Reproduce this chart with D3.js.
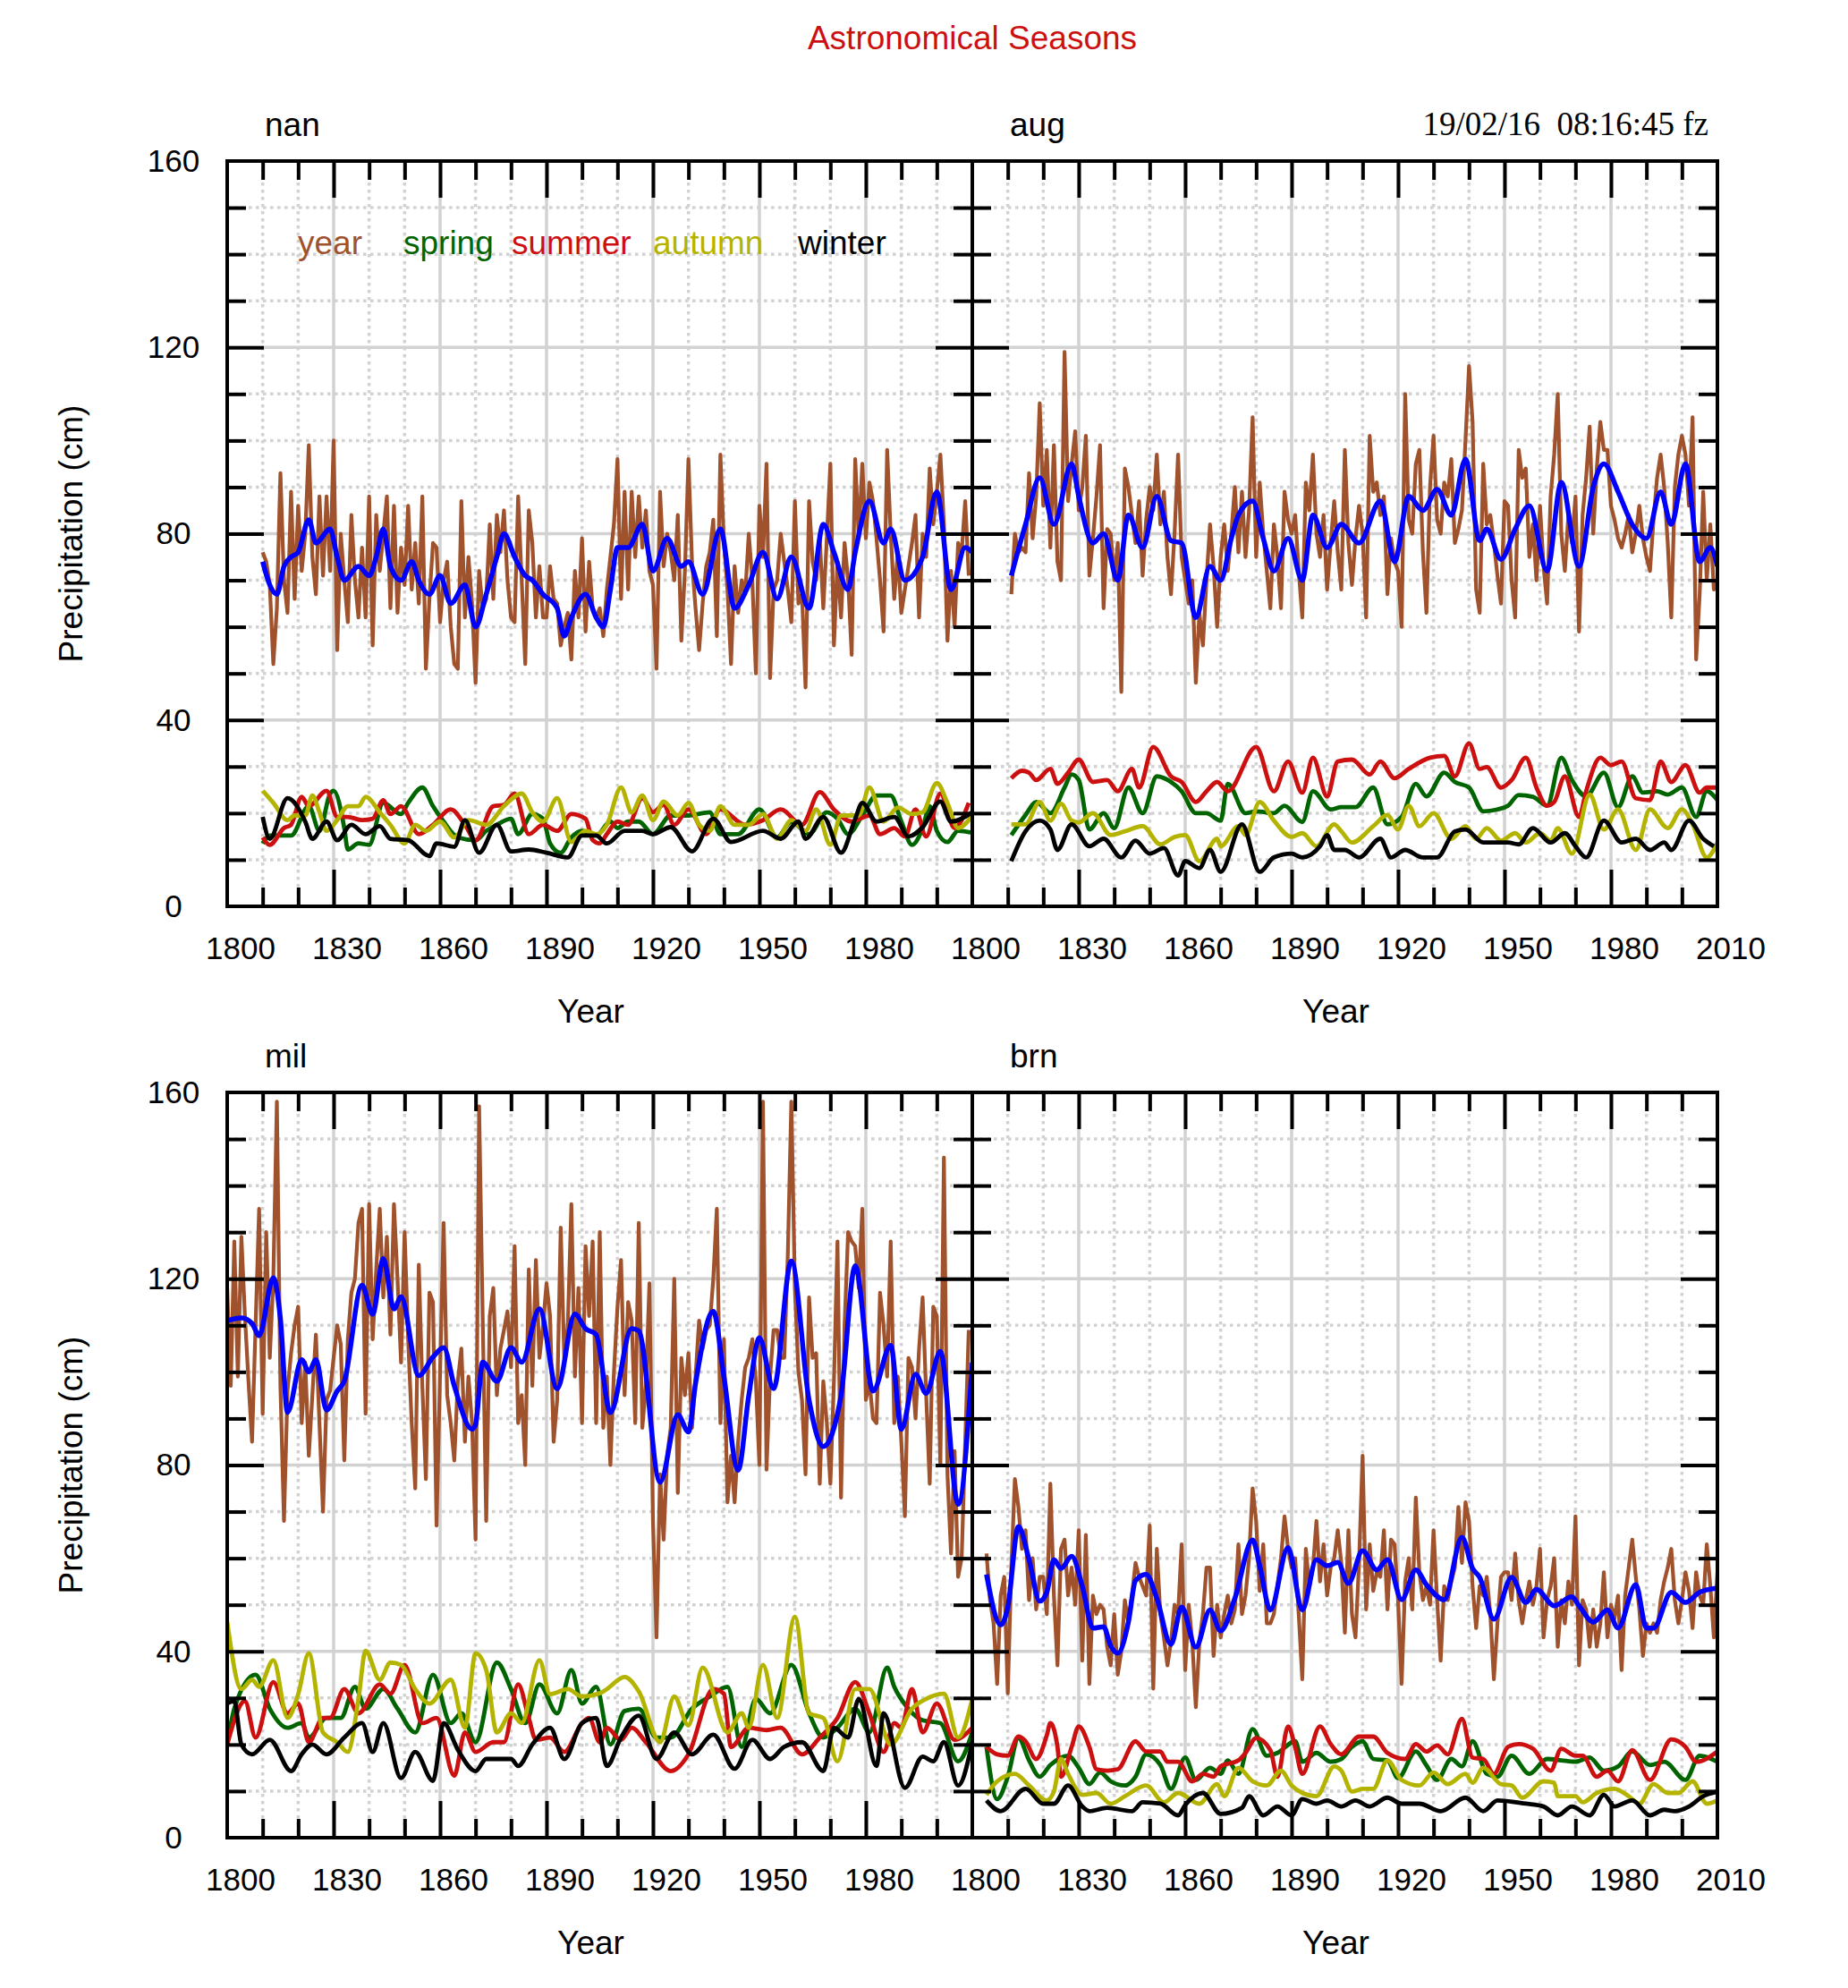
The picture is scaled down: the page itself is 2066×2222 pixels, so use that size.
<!DOCTYPE html>
<html><head><meta charset="utf-8">
<script src="https://cdn.jsdelivr.net/npm/d3@7"></script>
<style>body{margin:0;background:#fff}svg{display:block}</style>
</head><body>
<svg id="chart" width="2066" height="2222"></svg>
<script>
// ---------------- DATA ----------------
const chartTitle = "Astronomical Seasons";
const stampText = "19/02/16  08:16:45 fz";
const seasonNames = ["year","spring","summer","autumn","winter"];
const yTickValues = [0,40,80,120,160];
const xLabelsLeft = [1800,1830,1860,1890,1920,1950,1980];
const xLabelsRight = [1800,1830,1860,1890,1920,1950,1980,2010];

// nan: annual totals from 1810
const nanStart = 1810;
const nanYear = [76,74,69,52,64,93,70,63,89,66, 86,72,80,99,75,67,88,71,88,72, 100,55,80,70,61,84,70,62,77,62,
 88,56,84,72,80,88,64,86,63,77, 69,86,68,78,65,88,51,66,78,77, 61,70,74,60,52,51,87,62,75,65,
 48,72,64,66,82,66,84,76,85,70, 62,61,88,70,52,85,78,62,73,62, 62,73,66,65,56,60,63,53,72,62,
 79,59,74,64,62,64,58,68,75,82, 96,66,89,68,89,75,88,77,85,72, 69,51,89,73,80,76,70,84,57,72,
 96,74,64,55,65,73,76,83,58,97, 78,68,52,73,63,70,67,80,70,50, 86,75,95,49,68,70,80,74,68,61,
 87,65,67,47,87,74,70,79,64,79, 95,56,74,62,78,70,54,96,79,95, 79,91,87,79,70,59,98,80,66,76,
 63,68,73,78,84,62,80,75,94,82, 89,97,82,57,72,60,78,76,87,71];
const nanSmooth = [[1810,74],[1812,69],[1814,67],[1816,73],[1818,75],[1820,76],[1823,83],[1825,78],[1829,81],[1831,75],[1833,70],[1837,73],[1840,71],[1842,75],[1844,81],[1846,73],[1849,70],[1852,74],[1854,70],[1857,67],[1860,71],[1863,65],[1867,69],[1870,60],[1873,67],[1876,75],[1878,80],[1881,75],[1884,71],[1886,70],[1889,67],[1893,64],[1895,58],[1897,62],[1901,67],[1904,62],[1906,60],[1908,68],[1910,77],[1913,77],[1917,82],[1920,72],[1924,79],[1928,73],[1930,74],[1934,67],[1939,81],[1943,64],[1947,69],[1951,76],[1955,66],[1959,75],[1964,64],[1968,82],[1971,76],[1975,68],[1977,76],[1981,87],[1985,78],[1987,81],[1991,70],[1996,75],[2000,89],[2004,68],[2008,77],[2010,76]];
const nanSpring = [[1810,13.5],[1812,15.2],[1818,15.2],[1823,21.5],[1826,16.2],[1829,24.2],[1830,24.8],[1833,16.8],[1834,12.2],[1837,13.5],[1840,13.2],[1844,22.2],[1849,19.8],[1851,22.2],[1855,25.5],[1858,21.5],[1861,18.2],[1865,14.8],[1870,14.2],[1873,16.2],[1876,17.5],[1880,18.8],[1882,15.5],[1886,19.8],[1889,18.8],[1891,13.5],[1894,11.5],[1897,14.8],[1900,16.2],[1904,15.2],[1908,18.2],[1910,16.8],[1913,18.2],[1916,18.2],[1920,15.5],[1925,19.5],[1930,19.5],[1936,20.2],[1939,15.5],[1944,15.5],[1950,20.8],[1955,14.8],[1959,18.2],[1964,15.5],[1969,20.2],[1972,18.8],[1975,15.5],[1979,19.5],[1983,23.8],[1987,23.8],[1990,18.2],[1993,13.2],[1996,16.8],[1998,21.5],[2000,16.2],[2003,13.8],[2006,16.2],[2010,15.8]];
const nanSummer = [[1810,14.8],[1812,13.2],[1816,16.8],[1818,17.5],[1821,23.5],[1823,21.5],[1828,24.8],[1831,19.2],[1834,19.2],[1838,18.5],[1841,18.8],[1844,22.8],[1846,19.8],[1849,21.5],[1854,15.5],[1858,17.5],[1863,20.8],[1867,17.5],[1870,14.2],[1875,21.5],[1878,21.8],[1881,24.2],[1885,15.5],[1889,17.5],[1893,16.2],[1897,19.8],[1901,18.8],[1903,14.2],[1905,13.5],[1907,15.5],[1910,18.2],[1913,17.5],[1917,23.2],[1920,20.2],[1923,21.8],[1926,17.5],[1930,20.8],[1935,15.5],[1939,20.8],[1946,17.5],[1951,18.5],[1956,20.8],[1962,17.5],[1967,24.5],[1971,20.8],[1976,18.2],[1981,19.5],[1984,15.5],[1988,16.8],[1991,15],[1994,20.8],[1997,15],[2001,24.2],[2005,16.8],[2009,22.2]];
const nanAutumn = [[1810,24.8],[1813,22.2],[1817,18.5],[1819,19.5],[1822,19.5],[1824,23.8],[1826,20.2],[1828,16.2],[1831,18.5],[1834,21.5],[1837,21.5],[1839,23.5],[1843,20.2],[1846,17.5],[1850,13.5],[1853,17.5],[1856,16.2],[1860,18.2],[1864,14.8],[1868,18.5],[1873,17.5],[1878,21.5],[1883,24.2],[1886,20.2],[1889,18.2],[1893,23.2],[1897,13.8],[1901,16.2],[1904,15.5],[1907,17.5],[1911,25.5],[1914,20.2],[1917,23.8],[1920,18.5],[1923,22.5],[1927,19.5],[1930,22.2],[1933,17.5],[1936,16.2],[1939,21.5],[1943,17.5],[1947,17.5],[1951,19.8],[1955,14.5],[1959,18.5],[1963,16.2],[1966,20.8],[1970,13.2],[1973,19.5],[1978,19.5],[1981,25.5],[1985,18.2],[1989,21.2],[1993,19.8],[1996,20.2],[2000,26.5],[2003,22.2],[2006,16.8],[2010,19.5]];
const nanWinter = [[1810,19.2],[1812,14.5],[1817,23.2],[1822,18.2],[1824,14.5],[1828,18.2],[1831,14.2],[1835,17.5],[1839,15.5],[1843,17.2],[1846,14.5],[1851,14.2],[1857,10.8],[1859,13.5],[1864,12.8],[1867,18.5],[1871,11.5],[1876,17.5],[1880,11.8],[1885,12.2],[1890,11.5],[1896,10.5],[1900,15.2],[1904,15.2],[1907,13.5],[1912,16.2],[1917,16.2],[1920,15.5],[1925,17],[1931,11.8],[1937,18.8],[1942,13.8],[1951,16.2],[1956,14.5],[1961,18.2],[1963,14.5],[1968,19.2],[1973,11.5],[1977,18.8],[1979,22.2],[1983,18.2],[1988,19.2],[1992,15],[1996,17],[2001,22.5],[2004,18.2],[2010,20.2]];

// aug: annual totals from 1811
const augStart = 1811;
const augYear = [67,80,76,77,76,93,79,88,108, 86,98,77,99,74,70,119,87,95,102, 85,90,101,71,79,88,99,64,81,80,
 70,78,46,94,90,84,78,87,71,83, 90,85,97,82,89,75,67,80,97,75, 70,65,70,48,63,56,70,82,73,60,
 75,82,72,80,90,76,89,75,85,105, 75,91,80,72,64,82,75,64,89,83, 80,84,72,62,91,85,97,80,75,84,
 68,78,87,76,68,98,78,69,79,86, 80,62,101,89,91,84,88,67,79,74, 72,60,110,83,80,95,98,76,63,90,
 101,83,80,91,88,96,78,81,85,100, 116,104,68,63,95,82,84,78,71,65, 87,86,70,62,98,92,94,75,82,70,
 86,73,65,88,97,110,80,72,84,78, 88,59,84,92,103,80,94,104,98,98, 86,83,79,77,80,84,76,80,86,79,
 75,72,83,92,97,90,78,62,90,97, 101,97,86,105,53,67,89,70,82,68,70];
const augSmooth = [[1811,71],[1815,82],[1819,92],[1823,82],[1828,95],[1830,88],[1834,78],[1837,80],[1841,70],[1844,84],[1848,77],[1852,88],[1856,78.5],[1859,78],[1863,62],[1867,73],[1870,70],[1873,79],[1875,84],[1879,87],[1882,79],[1885,72],[1889,79],[1893,70],[1896,84],[1900,77],[1904,82],[1909,78],[1915,87],[1919,74],[1923,88],[1927,85],[1931,89.5],[1935,84],[1939,96],[1943,78.5],[1945,81],[1949,74.5],[1953,81],[1957,86],[1962,72],[1966,91],[1971,73],[1975,90],[1978,95],[1982,89],[1986,82],[1990,79],[1994,89],[1997,82],[2001,95],[2005,74],[2008,77],[2010,73]];
const augSpring = [[1811,15.3],[1815,19.6],[1818,22.4],[1822,20],[1826,25.5],[1828,28.3],[1830,27.1],[1833,16.5],[1837,20],[1840,16.8],[1844,25.5],[1848,20],[1852,27.9],[1856,26.7],[1859,24.7],[1863,20],[1866,20],[1870,18.4],[1872,26.3],[1877,20],[1880,20.4],[1885,20],[1888,21.6],[1893,18.1],[1896,24.7],[1901,20.8],[1904,21.3],[1908,21.3],[1913,25.5],[1917,17.6],[1921,19.2],[1925,26.3],[1928,23.6],[1933,28.7],[1936,26.7],[1940,25.5],[1944,20.4],[1948,20.8],[1951,21.6],[1954,23.9],[1958,23.5],[1962,21.6],[1966,31.9],[1969,27.1],[1973,23.6],[1978,28.7],[1982,21.3],[1986,27.9],[1989,24.4],[1993,24.7],[1996,24],[2000,25.5],[2004,19.2],[2007,24.7],[2010,22.8]];
const augSummer = [[1811,27.5],[1814,29.1],[1816,28.7],[1818,27.1],[1822,29.5],[1824,26.3],[1827,28.7],[1830,31.5],[1834,26.7],[1838,27.1],[1841,24.7],[1845,29.5],[1847,25.5],[1851,34.2],[1856,27.9],[1859,26.7],[1863,22.4],[1866,24.7],[1869,26.7],[1872,24.7],[1880,34.2],[1885,24.7],[1889,31.1],[1893,24.4],[1896,31.9],[1900,23.6],[1903,31.1],[1907,31.5],[1912,28.3],[1915,31.1],[1919,27.5],[1923,29.5],[1929,31.9],[1933,32.3],[1936,27.9],[1940,35],[1943,29.5],[1945,29.9],[1949,25.5],[1952,27.1],[1956,31.9],[1959,25.5],[1962,21.6],[1964,22.4],[1967,27.9],[1971,19.2],[1973,24.7],[1977,31.9],[1980,30.3],[1983,31.1],[1987,23.2],[1991,22.8],[1994,31.1],[1997,26.7],[2001,30.3],[2005,24.4],[2007,25.5],[2010,25.5]];
const augAutumn = [[1811,17.6],[1815,17.6],[1819,22.4],[1822,18.4],[1825,22],[1828,18.4],[1830,18],[1834,20],[1839,15.3],[1843,16.1],[1848,17.2],[1853,13.3],[1857,14.9],[1860,15.3],[1864,9.7],[1869,14.5],[1870,12.9],[1875,17.2],[1877,15.3],[1881,22.4],[1885,18.4],[1890,14.9],[1893,15.7],[1897,12.9],[1902,17.6],[1904,16.1],[1907,13.7],[1913,17.2],[1917,19.6],[1920,16.5],[1923,21.6],[1926,17.2],[1930,20],[1935,14.5],[1939,17.2],[1942,14.5],[1945,16.8],[1949,14.1],[1953,15.7],[1956,13.7],[1960,15.7],[1963,14.1],[1965,16.8],[1969,11.3],[1974,24],[1978,16.5],[1982,20.8],[1987,12.1],[1991,20.8],[1996,16.8],[2000,20.8],[2003,17.6],[2007,10.5],[2010,13.7]];
const augWinter = [[1811,9.7],[1815,16.1],[1819,18.4],[1822,16.5],[1824,12.1],[1828,17.6],[1833,12.9],[1837,14.5],[1842,10.5],[1846,14.1],[1850,11.3],[1854,12.5],[1858,6.6],[1860,9.7],[1864,8.2],[1867,12.1],[1870,7.4],[1876,17.6],[1881,7.4],[1885,10.5],[1890,11.3],[1893,10.5],[1898,12.9],[1900,15.3],[1902,12.1],[1905,12.1],[1909,10.5],[1915,14.5],[1918,10.5],[1922,12.1],[1927,10.5],[1931,10.5],[1936,16.1],[1939,16.5],[1944,13.7],[1951,13.7],[1954,13.3],[1958,16.8],[1963,13.7],[1967,15.7],[1970,12.9],[1973,10.5],[1978,18.4],[1983,13.7],[1987,14.5],[1991,12.1],[1995,13.7],[1997,12.1],[2002,18.4],[2006,14.5],[2009,12.9]];

// mil: annual totals from 1800
const milStart = 1800;
const milYear = [118,97,128,99,129,112,98,85,110,135, 91,130,103,120,158,97,68,96,104,110, 114,89,102,82,95,108,89,70,94,96,
 103,110,106,81,107,117,120,132,135,91, 136,107,122,135,116,129,108,136,120,102, 130,107,89,75,123,97,77,117,115,67,
 100,132,95,89,81,98,105,85,99,89, 64,157,112,68,112,118,95,105,109,113, 101,127,89,95,80,122,97,124,103,110,
 119,112,85,94,131,103,110,136,99,118, 89,127,112,128,89,130,88,99,80,100, 114,124,95,115,111,89,132,88,97,119,
 68,43,78,64,82,88,120,74,103,95, 104,88,99,111,105,109,110,120,135,89, 107,72,82,72,85,94,101,103,107,98,
 80,158,79,99,109,109,103,103,125,158, 118,100,94,78,116,103,104,76,98,89, 76,98,128,73,110,130,128,127,118,135,
 94,98,90,89,117,110,99,128,89,99, 85,69,103,101,90,105,116,95,76,114, 112,80,146,78,61,83,56,60,85,109];
const milSmooth = [[1800,111],[1804,111.6],[1807,110.4],[1809,107.8],[1813,120.2],[1815,111.4],[1817,91.3],[1821,102.6],[1823,100],[1825,102.6],[1828,91.8],[1831,95.9],[1833,98],[1838,118.6],[1841,112.4],[1844,124.3],[1847,113.5],[1849,116.1],[1854,99.2],[1858,103.2],[1861,105.2],[1864,97],[1869,87.7],[1870,88.7],[1872,102.1],[1876,98],[1880,105.2],[1883,102.1],[1888,113.5],[1893,96.4],[1898,112.4],[1901,109.3],[1904,108],[1908,91.3],[1914,109.3],[1916,108.8],[1922,76.3],[1927,90.8],[1930,87.1],[1932,97.5],[1937,113],[1940,99],[1944,78.9],[1947,94.9],[1950,107.3],[1954,96.4],[1959,123.8],[1964,93.9],[1968,84],[1973,94.9],[1977,122.8],[1982,95.9],[1987,105.7],[1990,87.7],[1994,99.5],[1997,95.4],[2001,104.4],[2006,71.6],[2010,102]];
const milSpring = [[1800,20],[1802,27.7],[1808,35],[1812,27.7],[1817,23.6],[1821,24.6],[1823,21.5],[1828,25.7],[1832,25.7],[1836,32.4],[1839,27.7],[1844,31.9],[1848,27.7],[1853,22.6],[1858,35],[1863,24.6],[1866,26.7],[1870,20.5],[1876,37.6],[1880,31.9],[1884,24.6],[1888,32.9],[1893,26.7],[1897,36],[1900,28.8],[1904,32.4],[1908,20],[1912,27.2],[1916,27.7],[1921,21.5],[1925,21.5],[1931,27.7],[1936,30.3],[1941,32.4],[1945,19.5],[1949,29.8],[1953,26.7],[1959,37.1],[1964,26.7],[1968,21.5],[1972,23.6],[1977,27.7],[1981,22.6],[1986,36.5],[1988,32.4],[1992,27.7],[1996,25.2],[2001,24.6],[2006,16.4],[2010,22.6]];
const milSummer = [[1800,20],[1805,29.3],[1808,21.5],[1813,33.4],[1817,26.7],[1820,28.8],[1823,20.5],[1827,25.7],[1829,25.7],[1833,31.9],[1837,26.7],[1843,32.9],[1846,30.9],[1850,37.1],[1855,24.6],[1859,25.7],[1864,13.3],[1867,22.6],[1870,18.4],[1875,20.5],[1878,20.5],[1882,32.9],[1885,25.7],[1887,21],[1891,21.5],[1895,18.4],[1900,24.6],[1902,25.7],[1905,20.5],[1907,23.6],[1911,21],[1914,23.6],[1918,20.5],[1925,14.3],[1930,17.9],[1937,31.9],[1940,30.9],[1942,19.5],[1947,23.6],[1952,23.1],[1956,23.6],[1962,17.9],[1967,21.5],[1972,25.7],[1977,33.4],[1981,26.7],[1985,18.4],[1988,24.6],[1990,23.6],[1993,31.9],[1996,22.6],[2000,28.8],[2005,21],[2010,23.6]];
const milAutumn = [[1800,46.3],[1804,31.9],[1807,33.9],[1809,32.4],[1813,38.1],[1817,25.7],[1820,30.8],[1823,39.6],[1827,22.6],[1831,20.5],[1834,18.4],[1837,29.8],[1839,40.1],[1843,33.9],[1846,37.6],[1849,37.1],[1853,31.9],[1857,28.8],[1863,33.9],[1867,23.6],[1870,39.6],[1873,36],[1876,22.6],[1880,26.7],[1883,24.6],[1888,38.1],[1891,30.8],[1896,31.9],[1900,30.3],[1905,31],[1907,31.9],[1912,34.5],[1916,31.4],[1922,20.5],[1926,30.3],[1930,24.1],[1934,36.5],[1941,22.6],[1945,26.7],[1947,23.6],[1951,37.1],[1955,25.7],[1960,47.4],[1964,26.7],[1968,25.7],[1972,16.4],[1977,31.9],[1981,31.9],[1987,20],[1993,27.7],[1997,29.8],[2002,30.9],[2006,21.5],[2010,29.8]];
const milWinter = [[1800,28.8],[1802,29.3],[1804,20],[1807,17.9],[1812,21],[1818,14.3],[1821,17.9],[1824,20],[1828,17.9],[1833,21.5],[1838,24.6],[1841,18.4],[1844,24.6],[1849,12.8],[1853,18.4],[1858,12.2],[1861,24.6],[1865,18.9],[1870,14.3],[1873,16.9],[1880,16.9],[1882,15.4],[1886,20],[1891,23.6],[1895,16.9],[1900,24.6],[1904,25.7],[1907,15.4],[1911,21.5],[1916,26.2],[1921,16.9],[1926,22.6],[1931,17.9],[1937,22.1],[1943,14.8],[1948,21],[1953,16.9],[1957,19.5],[1962,20.5],[1968,14.3],[1971,23.6],[1975,21.5],[1978,29.8],[1983,15.4],[1985,26.7],[1991,10.7],[1996,17.4],[1999,16.4],[2002,20.5],[2006,11.2],[2010,20.5]];

// brn: annual totals from 1804
const brnStart = 1804;
const brnYear = [61,51,46,33,52,56, 31,58,77,71,62,66,51,60,49,56, 56,48,76,52,37,62,64,52,58,50, 66,38,65,33,52,48,50,49,41,37,
 48,35,40,51,46,52,59,56,54,52, 67,32,62,48,43,37,42,50,48,63, 36,50,42,28,42,48,58,58,39,50,
 43,48,52,46,49,63,48,52,60,75, 68,53,63,46,46,48,54,60,69,62, 58,60,48,34,62,54,58,68,55,63,
 52,58,60,66,59,44,66,48,43,59, 82,49,63,53,57,56,66,49,64,63, 51,33,55,60,49,73,57,51,54,50,
 66,51,38,54,51,55,58,71,59,72, 68,54,45,54,52,56,48,34,46,56, 57,57,51,61,51,46,51,55,50,54,
 62,43,51,54,60,41,51,46,55,50, 69,37,51,49,41,49,41,46,57,43, 50,47,52,36,52,58,64,56,49,39,
 46,44,46,44,51,55,58,62,51,46, 51,57,53,45,57,52,50,63,54,43,57];
const brnSmooth = [[1804,56.5],[1808,45.7],[1810,49.5],[1813,66.8],[1816,59.7],[1819,50.8],[1821,52.7],[1823,59.7],[1825,57.8],[1828,60.4],[1831,54],[1834,45],[1837,45.3],[1839,41.2],[1841,39.6],[1844,46.3],[1846,55.2],[1849,56.5],[1852,51.4],[1856,41.5],[1859,49.5],[1863,40.9],[1867,48.9],[1870,44.4],[1874,51.4],[1879,63.9],[1881,58.4],[1884,48.9],[1889,62.3],[1893,48.9],[1897,59.7],[1900,58.4],[1903,59.1],[1906,54.6],[1910,61.6],[1914,57.5],[1917,59.7],[1921,51.1],[1925,57.5],[1928,54.3],[1933,51.1],[1938,64.5],[1941,57.8],[1943,55.9],[1947,46.9],[1952,55.9],[1956,50.5],[1959,53.3],[1964,49.8],[1969,51.7],[1971,49.8],[1975,46.3],[1979,48.9],[1982,45],[1987,54.3],[1990,45],[1992,45],[1997,52.7],[2001,50.5],[2005,52.7],[2010,53.6]];
const brnSpring = [[1804,19.5],[1807,8.3],[1810,13.1],[1813,21.4],[1816,16.6],[1819,13.1],[1822,15.6],[1827,17.6],[1830,15],[1833,11.5],[1836,14],[1839,12.1],[1843,11.2],[1846,13.1],[1849,17.9],[1853,15.6],[1856,10.5],[1860,17.2],[1863,12.4],[1867,15],[1870,13.7],[1872,16.6],[1875,13.7],[1879,23.3],[1883,17.6],[1886,18.2],[1891,20.7],[1893,16.3],[1897,18.2],[1901,16.3],[1904,16.9],[1907,19.5],[1910,20.7],[1913,16.9],[1917,16.6],[1920,12.8],[1925,18.5],[1928,15.5],[1931,12.4],[1935,16.9],[1938,15.3],[1941,20.7],[1945,13.7],[1948,13.1],[1952,17.6],[1957,13.7],[1962,16.9],[1966,16.6],[1970,16.3],[1974,17.2],[1978,14.4],[1982,15.3],[1986,18.5],[1991,15.6],[1995,16.3],[2001,12.4],[2005,17.6],[2010,16.3]];
const brnSummer = [[1804,19.5],[1807,17.9],[1810,17.6],[1813,21.7],[1815,20.7],[1818,16.9],[1821,22],[1822,24.6],[1824,19.5],[1825,13.1],[1828,19.5],[1830,23.9],[1833,19.5],[1835,14.7],[1838,14.4],[1841,14.7],[1846,20.7],[1849,18.5],[1853,18.5],[1855,16.3],[1858,16.3],[1862,12.1],[1865,13.7],[1868,13.1],[1870,15.3],[1875,16.6],[1877,18.2],[1880,21.4],[1884,18.8],[1886,13.1],[1889,23.9],[1891,19.5],[1893,13.7],[1898,23.9],[1901,20.1],[1904,17.9],[1909,21.7],[1913,21.7],[1917,18.2],[1922,16.9],[1925,20.1],[1928,18.5],[1931,19.8],[1934,17.9],[1938,25.5],[1941,17.2],[1944,16.9],[1947,13.7],[1951,19.5],[1954,20.1],[1958,19.1],[1963,14.4],[1966,19.1],[1970,17.6],[1972,17.6],[1976,13.1],[1979,14.4],[1982,12.1],[1986,18.8],[1991,12.4],[1997,21.1],[2001,19.5],[2004,16.3],[2010,18.5]];
const brnAutumn = [[1804,9.2],[1807,12.1],[1812,13.7],[1816,11.2],[1821,8],[1823,9.9],[1825,16.9],[1827,13.7],[1831,9.2],[1835,9.6],[1839,7.3],[1843,8.9],[1849,11.2],[1854,7.6],[1858,9.6],[1864,7.3],[1869,11.5],[1871,8.9],[1875,15],[1879,12.1],[1883,11.2],[1887,14.4],[1890,11.2],[1893,9.6],[1897,8.9],[1902,15.3],[1904,14.4],[1907,9.9],[1910,10.5],[1913,10.5],[1917,16.6],[1921,12.4],[1926,11.2],[1930,14],[1934,11.5],[1939,13.7],[1941,11.8],[1944,15],[1949,11.5],[1952,11.2],[1955,8.6],[1961,12.1],[1964,11.8],[1965,8.9],[1970,8.9],[1972,7.6],[1976,9.6],[1981,10.5],[1985,8.9],[1988,7.3],[1992,11.5],[1996,9.6],[1999,9.6],[2003,12.1],[2007,7.3],[2010,8]];
const brnWinter = [[1804,8],[1808,5.7],[1815,10.5],[1820,7.3],[1823,7.3],[1827,11.2],[1831,6.7],[1833,5.7],[1838,6.4],[1845,5.7],[1848,7.6],[1853,7.3],[1858,4.8],[1860,7],[1865,9.6],[1870,5.1],[1876,6.4],[1878,8.9],[1882,4.8],[1886,6.7],[1890,4.8],[1893,8.3],[1897,7.3],[1900,8],[1904,6.7],[1908,8],[1912,6.7],[1917,8.6],[1921,7.3],[1926,7.3],[1932,5.7],[1939,8.6],[1944,5.7],[1948,8],[1956,7.3],[1961,6.7],[1965,4.8],[1969,6.7],[1974,4.8],[1978,9.2],[1981,6.7],[1986,8],[1991,4.8],[1995,6],[1998,5.7],[2002,6.7],[2006,8.9],[2010,9.9]];

// ---------------- DRAWING ----------------
const FONT = "'Liberation Sans', Arial, Helvetica, sans-serif";
const COLORS = {year:"#a0522d", smooth:"#0000ff", spring:"#006400", summer:"#cc1010", autumn:"#b4b400", winter:"#000000"};
const PW = 833, PH = 833;
const svg = d3.select("#chart");
svg.append("rect").attr("width",2066).attr("height",2222).attr("fill","#fff");

const stations = [
  {name:"nan", col:0, row:0, start:nanStart, year:nanYear, smooth:nanSmooth, s:{spring:nanSpring, summer:nanSummer, autumn:nanAutumn, winter:nanWinter}},
  {name:"aug", col:1, row:0, start:augStart, year:augYear, smooth:augSmooth, s:{spring:augSpring, summer:augSummer, autumn:augAutumn, winter:augWinter}},
  {name:"mil", col:0, row:1, start:milStart, year:milYear, smooth:milSmooth, s:{spring:milSpring, summer:milSummer, autumn:milAutumn, winter:milWinter}},
  {name:"brn", col:1, row:1, start:brnStart, year:brnYear, smooth:brnSmooth, s:{spring:brnSpring, summer:brnSummer, autumn:brnAutumn, winter:brnWinter}}
];
const panelX = [254, 1087], panelY = [180, 1221];

svg.append("text").attr("x",1087).attr("y",55).attr("text-anchor","middle")
  .attr("font-family",FONT).attr("font-size",37).attr("fill","#cc1010").text(chartTitle);
svg.append("text").attr("x",1910).attr("y",151).attr("text-anchor","end").style("white-space","pre")
  .attr("font-family","'Liberation Serif','Times New Roman',serif").attr("font-size",37).attr("fill","#000").text(stampText);

const x = d3.scaleLinear().domain([1800,2010]).range([0,PW]);
const y = d3.scaleLinear().domain([0,160]).range([PH,0]);
const majorX = d3.range(1830,2010,30), minorX = d3.range(1810,2010,10).filter(v=>(v-1800)%30!==0);
const majorY = [40,80,120], minorY = d3.range(10,160,10).filter(v=>v%40!==0);
const GRID = "#d2d2d2";

const lineAnnual = (start) => d3.line().x((d,i)=>x(start+i)).y(d=>y(d));
const lineSmooth = d3.line().curve(d3.curveMonotoneX).x(d=>x(d[0])).y(d=>y(d[1]));

stations.forEach((st, k) => {
  const g = svg.append("g").attr("transform",`translate(${panelX[st.col]},${panelY[st.row]})`);
  // grid
  const grid = g.append("g");
  grid.selectAll(".gmx").data(minorX).join("line").attr("x1",d=>x(d)).attr("x2",d=>x(d)).attr("y1",0).attr("y2",PH)
    .attr("stroke",GRID).attr("stroke-width",3.5).attr("stroke-dasharray","3.5,4.5");
  grid.selectAll(".gmy").data(minorY).join("line").attr("y1",d=>y(d)).attr("y2",d=>y(d)).attr("x1",0).attr("x2",PW)
    .attr("stroke",GRID).attr("stroke-width",3.5).attr("stroke-dasharray","3.5,4.5");
  grid.selectAll(".gMx").data(majorX).join("line").attr("x1",d=>x(d)).attr("x2",d=>x(d)).attr("y1",0).attr("y2",PH)
    .attr("stroke",GRID).attr("stroke-width",3.5);
  grid.selectAll(".gMy").data(majorY).join("line").attr("y1",d=>y(d)).attr("y2",d=>y(d)).attr("x1",0).attr("x2",PW)
    .attr("stroke",GRID).attr("stroke-width",3.5);

  // data
  const cid = "clip"+k;
  g.append("clipPath").attr("id",cid).append("rect").attr("width",PW).attr("height",PH);
  const dg = g.append("g").attr("clip-path",`url(#${cid})`);
  dg.append("path").datum(st.year).attr("d",lineAnnual(st.start)).attr("fill","none")
    .attr("stroke",COLORS.year).attr("stroke-width",4.2).attr("stroke-linejoin","round");
  dg.append("path").datum(st.smooth).attr("d",lineSmooth).attr("fill","none")
    .attr("stroke",COLORS.smooth).attr("stroke-width",5.5);
  ["spring","summer","autumn","winter"].forEach(s => {
    dg.append("path").datum(st.s[s]).attr("d",lineSmooth).attr("fill","none")
      .attr("stroke",COLORS[s]).attr("stroke-width",4.8).attr("stroke-linejoin","round");
  });

  // ticks on all four sides (inward)
  const tk = (axis, tr) => {
    const a = g.append("g").attr("transform",tr).call(axis);
    a.select(".domain").remove();
    a.selectAll("line").attr("stroke","#000").attr("stroke-width",4);
    a.selectAll("text").remove();
  };
  tk(d3.axisBottom(x).tickValues(minorX).tickSize(-21), `translate(0,${PH})`);
  tk(d3.axisBottom(x).tickValues(majorX).tickSize(-41), `translate(0,${PH})`);
  tk(d3.axisTop(x).tickValues(minorX).tickSize(-21), `translate(0,0)`);
  tk(d3.axisTop(x).tickValues(majorX).tickSize(-41), `translate(0,0)`);
  tk(d3.axisLeft(y).tickValues(minorY).tickSize(-21), `translate(0,0)`);
  tk(d3.axisLeft(y).tickValues(majorY).tickSize(-41), `translate(0,0)`);
  tk(d3.axisRight(y).tickValues(minorY).tickSize(-21), `translate(${PW},0)`);
  tk(d3.axisRight(y).tickValues(majorY).tickSize(-41), `translate(${PW},0)`);

  g.append("rect").attr("width",PW).attr("height",PH).attr("fill","none").attr("stroke","#000").attr("stroke-width",4);

  // x tick labels
  const xl = st.col===0 ? xLabelsLeft : xLabelsRight;
  g.append("g").selectAll("text").data(xl).join("text")
    .attr("x",d=>x(d)+15).attr("y",PH+59).attr("text-anchor","middle")
    .attr("font-family",FONT).attr("font-size",35).text(d=>d);
  // y tick labels (left column only)
  if (st.col===0) {
    g.append("g").selectAll("text").data(yTickValues).join("text")
      .attr("x",-60).attr("y",d=>y(d)).attr("dy","0.34em").attr("text-anchor","middle")
      .attr("font-family",FONT).attr("font-size",35).text(d=>d);
    g.append("text").attr("transform",`translate(-162,${PH/2}) rotate(-90)`).attr("text-anchor","middle")
      .attr("font-family",FONT).attr("font-size",37).text("Precipitation (cm)");
  }
  g.append("text").attr("x",PW/2-10).attr("y",PH+130).attr("text-anchor","middle")
    .attr("font-family",FONT).attr("font-size",37).text("Year");
  g.append("text").attr("x",42).attr("y",-28).attr("font-family",FONT).attr("font-size",37).text(st.name);

  if (k===0) {
    const legendX = [79,197,318,476,638];
    g.append("g").selectAll("text").data(seasonNames).join("text")
      .attr("x",(d,i)=>legendX[i]).attr("y",104).attr("font-family",FONT).attr("font-size",37)
      .attr("fill",d=>COLORS[d]).text(d=>d);
  }
});
</script>
</body></html>
